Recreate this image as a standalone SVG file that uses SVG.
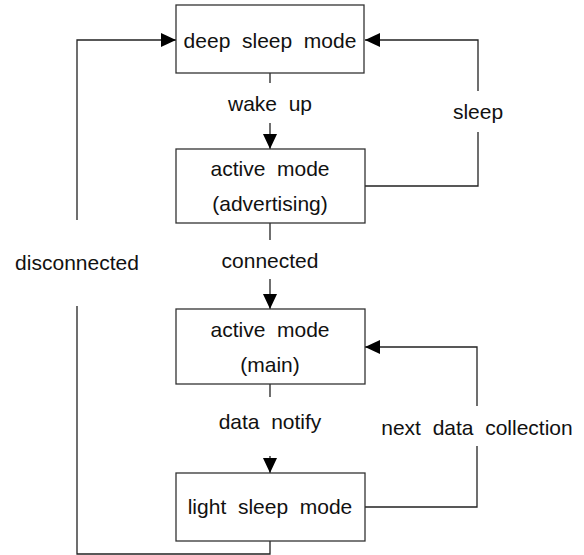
<svg xmlns="http://www.w3.org/2000/svg" width="584" height="555" viewBox="0 0 584 555">
  <defs>
    <marker id="arrow" markerUnits="userSpaceOnUse" markerWidth="16" markerHeight="14" refX="15" refY="7" orient="auto">
      <path d="M0,0 L15,7 L0,14 Z" fill="#000"/>
    </marker>
    <style>
      .box { fill: #fff; stroke: #333; stroke-width: 1.3; }
      .line { fill: none; stroke: #222; stroke-width: 1.3; }
      .t { font-family: "Liberation Sans", Arial, sans-serif; font-size: 21px; fill: #111; text-anchor: middle; white-space: pre; }
    </style>
  </defs>
  <rect width="584" height="555" fill="#fff"/>

  <g id="connectors">
    <!-- deep sleep -> active (advertising) -->
    <line class="line" x1="270" y1="73" x2="270" y2="83"/>
    <line class="line" x1="270" y1="123" x2="270" y2="149" marker-end="url(#arrow)"/>
    <text class="t" x="270" y="111">wake  up</text>
    <!-- active (advertising) -> active (main) -->
    <line class="line" x1="270" y1="223" x2="270" y2="240"/>
    <line class="line" x1="270" y1="279" x2="270" y2="309" marker-end="url(#arrow)"/>
    <text class="t" x="270" y="268">connected</text>
    <!-- active (main) -> light sleep -->
    <line class="line" x1="270" y1="384" x2="270" y2="397"/>
    <line class="line" x1="270" y1="456" x2="270" y2="473" marker-end="url(#arrow)"/>
    <text class="t" x="270" y="429">data  notify</text>
    <!-- active (advertising) -> deep sleep -->
    <path class="line" d="M365,186 H478 V132"/>
    <path class="line" d="M478,91 V40 H365" marker-end="url(#arrow)"/>
    <text class="t" x="478" y="119">sleep</text>
    <!-- light sleep -> active (main) -->
    <path class="line" d="M365,507 H477 V446"/>
    <path class="line" d="M477,406 V347 H365" marker-end="url(#arrow)"/>
    <text class="t" x="477" y="435">next  data  collection</text>
    <!-- light sleep -> deep sleep -->
    <path class="line" d="M270,541 V554 H77 V306"/>
    <path class="line" d="M77,220 V40 H176" marker-end="url(#arrow)"/>
    <text class="t" x="77" y="270">disconnected</text>
  </g>

  <g id="deep-sleep">
    <rect class="box" x="176" y="5" width="188" height="68"/>
    <text class="t" x="270" y="48">deep  sleep  mode</text>
  </g>
  <g id="active-advertising">
    <rect class="box" x="176" y="149" width="189" height="74"/>
    <text class="t" x="270" y="176">active  mode</text>
    <text class="t" x="270" y="211">(advertising)</text>
  </g>
  <g id="active-main">
    <rect class="box" x="176" y="309" width="189" height="75"/>
    <text class="t" x="270" y="337">active  mode</text>
    <text class="t" x="270" y="372">(main)</text>
  </g>
  <g id="light-sleep">
    <rect class="box" x="176" y="473" width="189" height="68"/>
    <text class="t" x="270" y="514">light  sleep  mode</text>
  </g>
</svg>
